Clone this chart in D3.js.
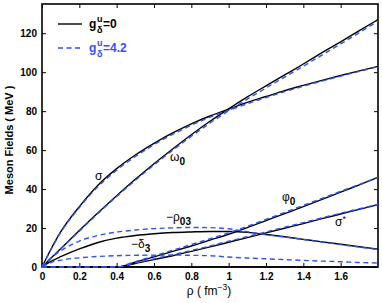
<!DOCTYPE html>
<html><head><meta charset="utf-8">
<script src="https://cdn.jsdelivr.net/npm/d3@7"></script>
<style>body{margin:0;background:#fff}svg{display:block}text{font-family:"Liberation Sans",Arial,sans-serif}</style>
</head><body><svg id="c" width="382" height="303"></svg>
<script>
const rho = [0,0.05,0.1,0.2,0.3,0.4,0.5,0.6,0.7,0.8,0.9,1.0,1.1,1.2,1.3,1.4,1.5,1.6,1.7,1.8];
// g_delta^u = 0 (black solid)
const sigmaA = [0,9.5,18,31,42,50.5,57.5,63.5,68.8,73.5,77.5,81,84.5,87.5,90.5,93.2,95.8,98.3,100.7,103];
const omegaA = [0,4.7,9.4,18.7,27.8,36.6,45,53,60.6,67.9,74.8,81.2,87.3,93,98.6,104.2,110,115.6,121.3,127];
const rho03A = [0,3,5.3,9.3,12.6,14.8,16.2,17.1,17.7,18,18.2,18.2,17.8,16.7,15.5,14.2,12.9,11.7,10.4,9.2];
const delta3A = [0,0,0,0,0,0,0,0,0,0,0,0,0,0,0,0,0,0,0,0];
const phi0A = [0,0,0,0,0,0,2.5,5.2,8,10.8,13.8,16.8,20.2,23.8,27.4,31,34.7,38.4,42.2,46];
const sigStarA = [0,0,0,0,0,0,1.8,3.8,5.8,8,10.3,12.7,15.1,17.5,19.9,22.3,24.8,27.2,29.6,32];
// g_delta^u = 4.2 (blue dashed)
const sigmaB = [0,9.3,17.7,30.5,41.3,49.7,56.7,62.8,68.1,72.8,76.9,80.4,83.8,87,90,92.8,95.4,98,100.4,102.8];
const omegaB = [0,4.6,9.2,18.4,27.5,36.2,44.5,52.4,59.9,67.1,73.9,80.2,86.2,91.9,97.5,103.1,108.8,114.5,120.3,126.2];
const rho03B = [0,4.8,8.3,13.3,16.2,17.9,19,19.7,20.1,20.3,20.2,19.6,18.1,16.6,15.4,14.1,12.8,11.5,10.2,9];
const delta3B = [0,2.4,3.5,4.7,5.4,5.8,6,6.1,6.1,6,5.8,5.1,4.6,4.2,3.8,3.4,3,2.7,2.3,2];
const phi0B = [0,0,0,0,0,0,2.8,5.7,8.6,11.5,14.5,17.5,20.9,24.4,28,31.6,35.2,38.8,42.4,46];
const sigStarB = [0,0,0,0,0,0,2.1,4.2,6.3,8.5,10.8,13.2,15.6,18,20.4,22.8,25.2,27.6,29.9,32.2];

const xTicks = [0,0.2,0.4,0.6,0.8,1,1.2,1.4,1.6];
const yTicks = [0,20,40,60,80,100,120];
const blue = "#3152f2";

const svg = d3.select("#c");
const L=42,R=378,T=4,B=267;
const x = d3.scaleLinear().domain([0,1.8]).range([L,R]);
const y = d3.scaleLinear().domain([0,135]).range([B,T]);

// axes (inward ticks)
const ax = svg.append("g").attr("font-weight","bold").attr("font-size",11.5);
ax.append("g").attr("transform",`translate(0,${B})`).call(d3.axisBottom(x).tickValues(xTicks).tickFormat(d=>d===0?"0":(d===1?"1":d3.format(".1f")(d))).tickSizeInner(-4).tickSizeOuter(0).tickPadding(6));
ax.append("g").attr("transform",`translate(0,${T})`).call(d3.axisTop(x).tickValues(xTicks).tickFormat("").tickSizeInner(-4).tickSizeOuter(0));
ax.append("g").attr("transform",`translate(${L},0)`).call(d3.axisLeft(y).tickValues(yTicks).tickSizeInner(-4).tickSizeOuter(0).tickPadding(5));
ax.append("g").attr("transform",`translate(${R},0)`).call(d3.axisRight(y).tickValues(yTicks).tickFormat("").tickSizeInner(-4).tickSizeOuter(0));
ax.selectAll(".domain").remove();
ax.selectAll("line").attr("stroke","#000").attr("stroke-width",1);
ax.selectAll("text").attr("fill","#000").attr("font-family","Liberation Sans, Arial, sans-serif");
svg.append("rect").attr("x",L).attr("y",T).attr("width",R-L).attr("height",B-T).attr("fill","none").attr("stroke","#000").attr("stroke-width",1.6);

const line = d3.line().x((d,i)=>x(rho[i])).y(d=>y(d)).curve(d3.curveMonotoneX);
const seriesA=[sigmaA,omegaA,rho03A,delta3A,phi0A,sigStarA];
const seriesB=[sigmaB,omegaB,rho03B,delta3B,phi0B,sigStarB];
const g = svg.append("g");
seriesA.forEach(s=>g.append("path").attr("d",line(s)).attr("fill","none").attr("stroke","#000").attr("stroke-width",1.4));
seriesB.forEach(s=>g.append("path").attr("d",line(s)).attr("fill","none").attr("stroke",blue).attr("stroke-width",1.4).attr("stroke-dasharray","5,3.5"));

// axis labels
svg.append("text").attr("transform","translate(13,140) rotate(-90)").attr("text-anchor","middle").attr("font-size",11).attr("font-weight","bold").text("Meson Fields ( MeV )");
const xl = svg.append("text").attr("x",209).attr("y",295).attr("text-anchor","middle").attr("font-size",12);
xl.append("tspan").text("ρ ( fm");
xl.append("tspan").attr("dy",-5).attr("font-size",8.5).text("−3");
xl.append("tspan").attr("dy",5).text(")");

// curve labels
function lab(xp,yp,main,sub,sup){
  const t=svg.append("text").attr("x",xp).attr("y",yp).attr("font-size",12);
  t.append("tspan").text(main);
  if(sub) t.append("tspan").attr("dy",4).attr("font-size",10).attr("font-weight","bold").text(sub);
  if(sup) t.append("tspan").attr("dy",-4).attr("font-size",9).text(sup);
}
lab(95,180,"σ");
lab(170,161,"ω","0");
lab(166,221,"−ρ","03");
lab(131,248,"−δ","3");
lab(282,201,"φ","0");
lab(335,226,"σ",null,"*");

// legend
const lg = svg.append("g");
lg.append("line").attr("x1",58).attr("x2",82).attr("y1",24).attr("y2",24).attr("stroke","#000").attr("stroke-width",1.4);
lg.append("line").attr("x1",58).attr("x2",82).attr("y1",48).attr("y2",48).attr("stroke",blue).attr("stroke-width",1.4).attr("stroke-dasharray","5,3.5");
function legText(yb,color,val){
  const t=lg.append("g").attr("fill",color).attr("font-weight","bold");
  t.append("text").attr("x",89).attr("y",yb).attr("font-size",12).text("g");
  t.append("text").attr("x",97).attr("y",yb-6).attr("font-size",9).text("u");
  t.append("text").attr("x",97).attr("y",yb+5).attr("font-size",9).text("δ");
  t.append("text").attr("x",103).attr("y",yb).attr("font-size",12).text("="+val);
}
legText(28,"#000","0");
legText(52,blue,"4.2");
</script></body></html>
